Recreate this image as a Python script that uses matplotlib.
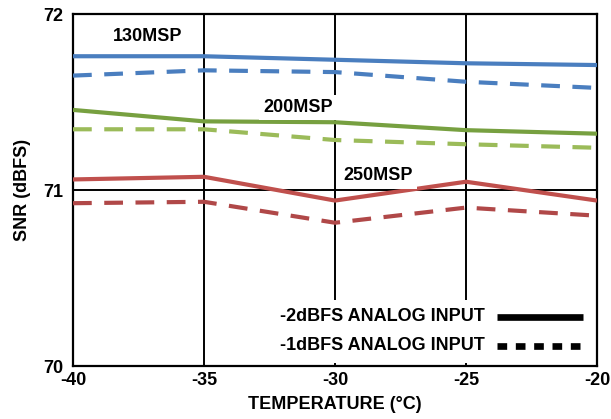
import numpy as np
import matplotlib
matplotlib.use('Agg')
import matplotlib.pyplot as plt

plt.rcParams['font.family'] = ['Liberation Sans', 'DejaVu Sans']
plt.rcParams['font.weight'] = 'bold'

# temperatur (°C)
temperature = [-40, -35, -30, -25, -20]

# SNR (dBFS) per samplingrate, -2dBFS (solid) og -1dBFS (stiplet)
snr_130_2dbfs = [71.76, 71.76, 71.74, 71.72, 71.71]
snr_130_1dbfs = [71.65, 71.68, 71.67, 71.615, 71.58]
snr_200_2dbfs = [71.455, 71.39, 71.385, 71.34, 71.32]
snr_200_1dbfs = [71.345, 71.345, 71.284, 71.26, 71.24]
snr_250_2dbfs = [71.06, 71.075, 70.94, 71.047, 70.94]
snr_250_1dbfs = [70.925, 70.933, 70.814, 70.90, 70.854]

xticks = [-40, -35, -30, -25, -20]
yticks = [70, 71, 72]

FS = 13

fig = plt.figure(figsize=(6.11, 4.19), dpi=100)
ax = fig.add_axes([73 / 611, 1 - 366 / 419, 524 / 611, 352 / 419])

dash = (0, (4.5, 3.0))
ax.plot(temperature, snr_130_2dbfs, color='#4a7ebf', lw=3, solid_capstyle='butt', zorder=3)
ax.plot(temperature, snr_130_1dbfs, color='#4a7ebf', lw=3, ls=dash, zorder=3)
ax.plot(temperature, snr_200_2dbfs, color='#77a040', lw=3, solid_capstyle='butt', zorder=3)
ax.plot(temperature, snr_200_1dbfs, color='#9bbb59', lw=3, ls=dash, zorder=3)
ax.plot(temperature, snr_250_2dbfs, color='#c0504d', lw=3, solid_capstyle='butt', zorder=3)
ax.plot(temperature, snr_250_1dbfs, color='#b04848', lw=3, ls=dash, zorder=3)

ax.set_xlim(-40, -20)
ax.set_ylim(70, 72)
ax.set_xticks(xticks)
ax.set_yticks(yticks)
ax.set_xticklabels([str(t) for t in xticks], fontsize=FS, fontweight='bold')
ax.set_yticklabels([str(t) for t in yticks], fontsize=FS, fontweight='bold')
ax.tick_params(axis='y', length=0, pad=7)
ax.tick_params(axis='x', length=0, pad=4)
ax.grid(True, color='black', lw=1.4, zorder=1)
for s in ax.spines.values():
    s.set_linewidth(1.6)

ax.set_xlabel('TEMPERATURE (°C)', fontsize=FS, fontweight='bold', labelpad=5)
ax.set_ylabel('SNR (dBFS)', fontsize=FS, fontweight='bold', labelpad=9)

lbl = dict(fontsize=FS, fontweight='bold', ha='center', va='center', zorder=4,
           bbox=dict(facecolor='white', edgecolor='none', pad=3))
ax.text(-37.15, 71.875, '130MSP', **lbl)
ax.text(-31.4, 71.47, '200MSP', **lbl)
ax.text(-28.35, 71.08, '250MSP', **lbl)

# forklaring
ax.text(-24.27, 70.28, '-2dBFS ANALOG INPUT', fontsize=FS, fontweight='bold',
        ha='right', va='center', zorder=4,
        bbox=dict(facecolor='white', edgecolor='none', pad=6))
ax.text(-24.27, 70.115, '-1dBFS ANALOG INPUT', fontsize=FS, fontweight='bold',
        ha='right', va='center', zorder=4,
        bbox=dict(facecolor='white', edgecolor='none', pad=6))
ax.plot([-23.8, -20.55], [70.28, 70.28], color='black', lw=4.8, solid_capstyle='butt', zorder=4)
ax.plot([-23.8, -20.55], [70.115, 70.115], color='black', lw=4.8, ls=(0, (1.45, 1.3)), zorder=4)

fig.savefig('out.png', dpi=100)
